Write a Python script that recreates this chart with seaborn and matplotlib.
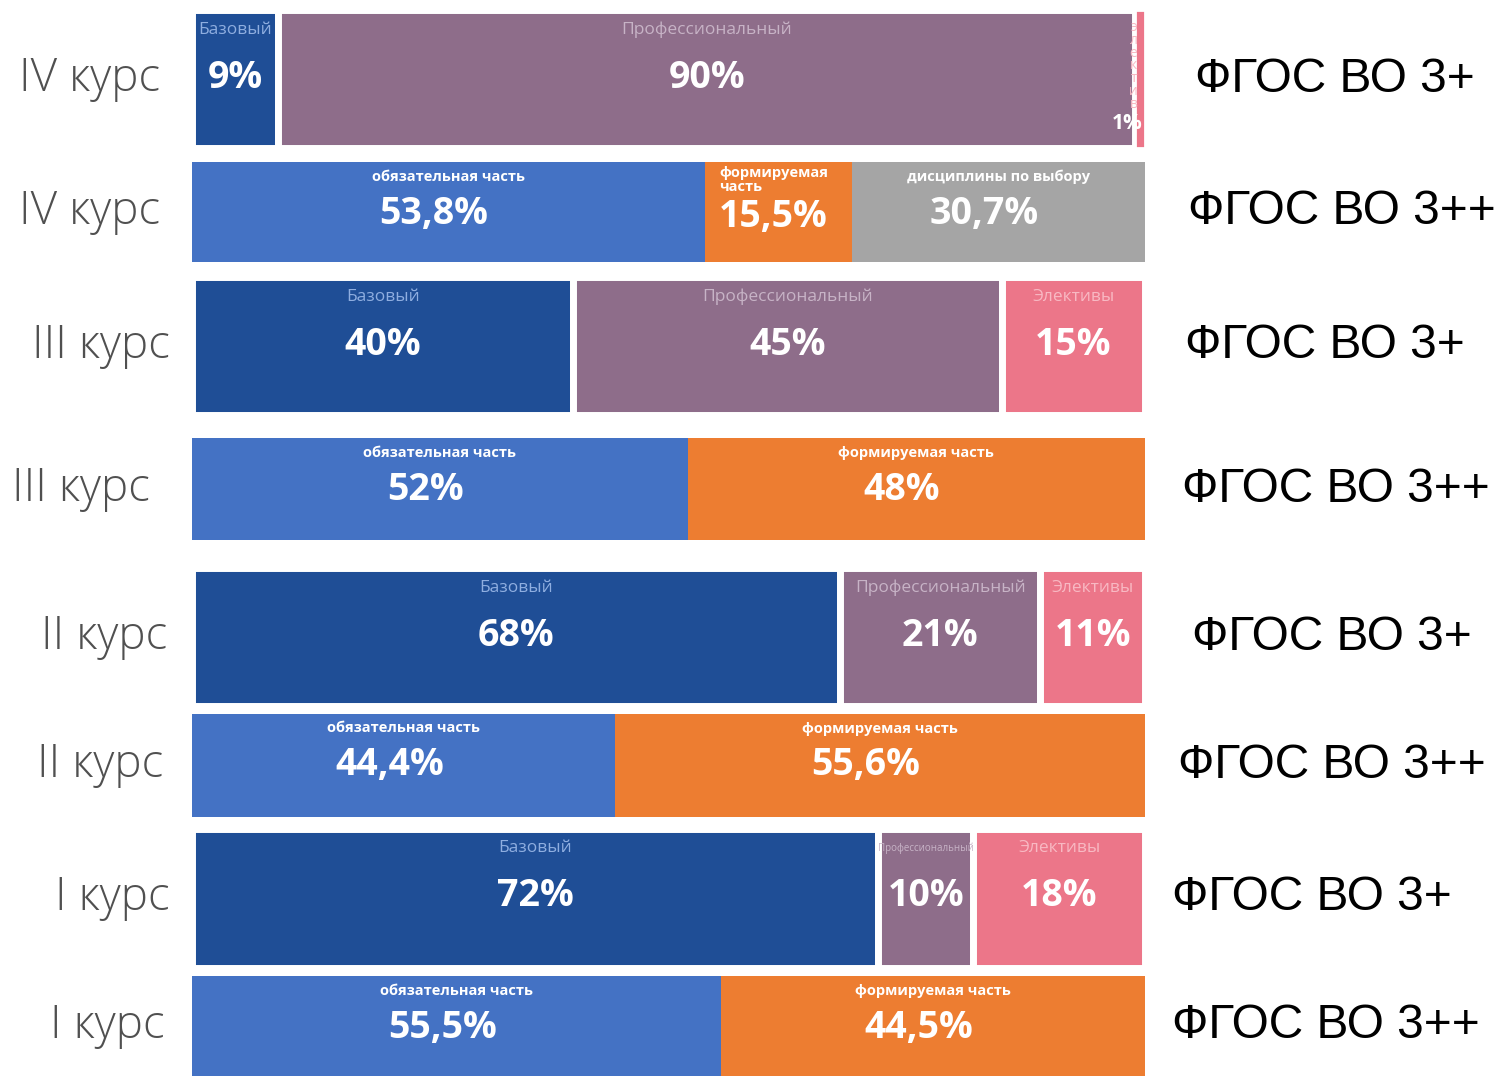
import matplotlib
matplotlib.use("Agg")
import matplotlib.pyplot as plt
import seaborn as sns
import numpy as np

# ---- data ----
courses = ["IV курс", "IV курс", "III курс", "III курс", "II курс", "II курс", "I курс", "I курс"]
standards = ["ФГОС ВО 3+", "ФГОС ВО 3++", "ФГОС ВО 3+", "ФГОС ВО 3++",
             "ФГОС ВО 3+", "ФГОС ВО 3++", "ФГОС ВО 3+", "ФГОС ВО 3++"]
parts_3p = ["Базовый", "Профессиональный", "Элективы"]
parts_3pp_iv = ["обязательная часть", "формируемая часть", "дисциплины по выбору"]
parts_3pp = ["обязательная часть", "формируемая часть"]
iv_3p = [9, 90, 1]
iv_3pp = [53.8, 15.5, 30.7]
iii_3p = [40, 45, 15]
iii_3pp = [52, 48]
ii_3p = [68, 21, 11]
ii_3pp = [44.4, 55.6]
i_3p = [72, 10, 18]
i_3pp = [55.5, 44.5]

row_values = [iv_3p, iv_3pp, iii_3p, iii_3pp, ii_3p, ii_3pp, i_3p, i_3pp]
row_parts = [parts_3p, parts_3pp_iv, parts_3p, parts_3pp, parts_3p, parts_3pp, parts_3p, parts_3pp]

# ---- style / layout ----
colors_3p = ["#1F4E96", "#8E6D8A", "#EC7689"]
name_colors_3p = ["#8FAEE0", "#C7B3C6", "#F8B9C3"]
colors_3pp = ["#4472C4", "#ED7D31", "#A5A5A5"]

row_centers = [79, 212, 346, 489, 637, 765, 898, 1026]
row_heights = [138, 100, 138, 102, 138, 103, 139, 100]
course_right = [160, 160, 170, 150, 167, 163, 170, 165]
standard_left = [1195, 1188, 1185, 1182, 1192, 1178, 1172, 1172]

sns.set_theme(style="white")
plt.rcParams["font.family"] = ["Open Sans", "DejaVu Sans"]

W, H = 1497, 1076
fig = plt.figure(figsize=(W / 100, H / 100), dpi=100)
fig.patch.set_facecolor("white")
ax = fig.add_axes([192 / W, 0, 953 / W, 1])
ax.set_xlim(0, 100)
ax.set_ylim(H, 0)
ax.axis("off")
px_per_unit = 953 / 100


def fmt(v):
    return (f"{v:g}".replace(".", ",")) + "%"


for i, (vals, parts) in enumerate(zip(row_values, row_parts)):
    is3p = standards[i].endswith("3+")
    cols = colors_3p if is3p else colors_3pp
    y = row_centers[i]
    h = row_heights[i]
    top = y - h / 2
    left = 0.0
    for j, v in enumerate(vals):
        ax.barh(y, v, left=left, height=h, color=cols[j],
                edgecolor="white", linewidth=(2 if v < 3 else 5) if is3p else 0)
        cx = left + v / 2
        name = parts[j]
        if is3p:
            if v < 3:
                ax.text(left + v - 1.2, top + 10, "\n".join("электив"), ha="center", va="top",
                        fontsize=10, color=name_colors_3p[j], linespacing=0.8, clip_on=False)
                ax.text(left + v - 0.3, top + h - 14, fmt(v), ha="right", va="bottom",
                        fontsize=15, fontweight="bold", color="white", clip_on=False)
            else:
                wpx = v * px_per_unit
                fs = min(12.5, wpx / (len(name) * 0.85))
                ax.text(cx, top + 20, name, ha="center", va="center",
                        fontsize=fs, color=name_colors_3p[j])
                ax.text(cx, top + 68, fmt(v), ha="center", va="center",
                        fontsize=27, fontweight="bold", color="white")
        else:
            if v < 20:
                ax.text(left + 1.5, top + 18, "формируемая\nчасть", ha="left", va="center",
                        fontsize=10.5, fontweight="bold", color="white", linespacing=1.05)
                ax.text(left + 1.5, top + 55, fmt(v), ha="left", va="center",
                        fontsize=27, fontweight="bold", color="white")
            else:
                ax.text(cx, top + 15, name, ha="center", va="center",
                        fontsize=10.5, fontweight="bold", color="white")
                ax.text(cx - 1.5, top + 52, fmt(v), ha="center", va="center",
                        fontsize=27, fontweight="bold", color="white")
        left += v

    # left course label
    fig.text(course_right[i] / W, 1 - y / H, courses[i], ha="right", va="center",
             fontsize=33, color="#505050", fontweight="light")
    # right standard label
    fig.text(standard_left[i] / W, 1 - y / H, standards[i], ha="left", va="center",
             fontsize=34.5, color="black", family=["Liberation Sans", "DejaVu Sans"])

sns.despine(ax=ax, left=True, bottom=True)
fig.savefig("out.png", dpi=100, facecolor="white")
